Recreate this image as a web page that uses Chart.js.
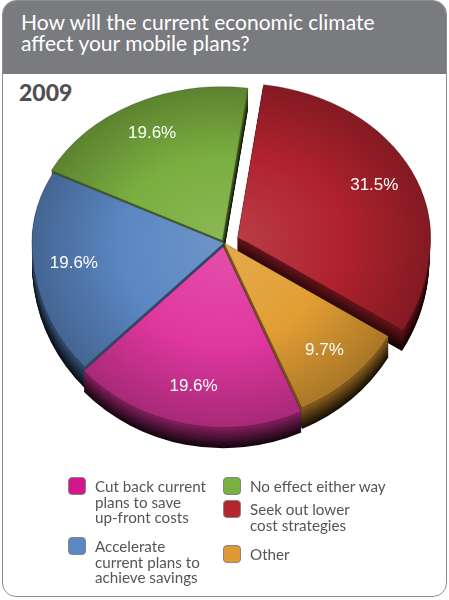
<!DOCTYPE html>
<html>
<head>
<meta charset="utf-8">
<script src="https://cdn.jsdelivr.net/npm/chart.js@4.4.1/dist/chart.umd.min.js"></script>
<style>
  body { margin: 0; width: 449px; height: 600px; background: #fff; overflow: hidden; font-family: Lato, "Open Sans", sans-serif; }
  #frame { position: absolute; left: 2px; top: 0; width: 443px; height: 595px; border: 1px solid #8e8e8e; border-radius: 14px; overflow: hidden; background: #fff; }
  #header { position: absolute; left: 0; top: 0; right: 0; height: 73px; background: #7a7b7f; }
  #title { position: absolute; left: 21px; top: 11px; color: #fff; font-size: 21px; line-height: 21px; white-space: nowrap; }
  #year { position: absolute; left: 19px; top: 81px; color: #505052; font-weight: 900; font-size: 23px; line-height: 23px; }
  #chart { position: absolute; left: 0; top: 0; z-index: 1; pointer-events: none; }
  .item { position: absolute; z-index: 2; }
  .item .sw { position: absolute; left: 0; top: 0; width: 16px; height: 16px; border: 1.5px solid #858585; border-radius: 4px; }
  .item .tx { position: absolute; left: 27px; top: 2px; color: #555; font-size: 15.2px; line-height: 15.5px; white-space: pre; }
</style>
</head>
<body>
<div id="frame"><div id="header"></div></div>
<div id="title">How will the current economic climate<br>affect your mobile plans?</div>
<div id="year">2009</div>
<canvas id="chart" width="449" height="600"></canvas>
<div id="legend"></div>
<script>
// answers, in the order they go round the pie (clockwise from the pink one)
const categories = [
  "Cut back current\nplans to save\nup-front costs",
  "Accelerate\ncurrent plans to\nachieve savings",
  "No effect either way",
  "Seek out lower\ncost strategies",
  "Other"
];
const shares = [19.6, 19.6, 19.6, 31.5, 9.7];

const sliceColors = ["#e0379f", "#5a86c2", "#7aae3f", "#b0222d", "#e29e34"];
const swatchColors = ["#d4168a", "#5b87c3", "#79b042", "#b3262d", "#de9a35"];
const sliceOffsets = [16, 0, 14, 60, 0];

// far half of the pie is flattened more than the near half
const tiltFar = 0.80;
const tiltNear = 0.94;
const depth = 21;

function mix(hex, target, t) {
  const n = parseInt(hex.slice(1), 16);
  const c = [(n >> 16) & 255, (n >> 8) & 255, n & 255];
  return "rgb(" + c.map(v => Math.round(v + (target - v) * t)).join(",") + ")";
}

function center(chart) {
  const a = chart.chartArea;
  return [(a.left + a.right) / 2, (a.top + a.bottom) / 2];
}

// run fn twice: once for the far half, once for the near half
function eachHalf(chart, dy, fn) {
  const ctx = chart.ctx;
  const [cx, cy] = center(chart);
  [[true, tiltFar], [false, tiltNear]].forEach(([far, k]) => {
    ctx.save();
    ctx.beginPath();
    if (far) ctx.rect(0, 0, chart.width, cy + dy);
    else ctx.rect(0, cy + dy, chart.width, chart.height);
    ctx.clip();
    ctx.translate(cx, cy + dy);
    ctx.scale(1, k);
    ctx.translate(-cx, -cy);
    fn(ctx);
    ctx.restore();
  });
}

function arcPath(ctx, arc) {
  const p = arc.getProps(["x", "y", "startAngle", "endAngle", "outerRadius"], true);
  const off = (arc.options.offset || 0) / 4;
  const mid = (p.startAngle + p.endAngle) / 2;
  const x = p.x + Math.cos(mid) * off;
  const y = p.y + Math.sin(mid) * off;
  ctx.beginPath();
  ctx.moveTo(x, y);
  ctx.arc(x, y, p.outerRadius, p.startAngle, p.endAngle);
  ctx.closePath();
}

const pie3d = {
  id: "pie3d",
  beforeDatasetsDraw(chart) {
    const arcs = chart.getDatasetMeta(0).data;
    // side walls, deepest layer first
    for (let d = depth; d >= 1; d--) {
      eachHalf(chart, d, ctx => {
        arcs.forEach((arc, i) => {
          ctx.fillStyle = mix(sliceColors[i], 0, 0.4 + 0.5 * d / depth);
          arcPath(ctx, arc);
          ctx.fill();
        });
      });
    }
    // top faces
    eachHalf(chart, 0, ctx => arcs.forEach(arc => arc.draw(ctx)));
    return false;
  },
  afterDraw(chart) {
    const ctx = chart.ctx;
    const [cx, cy] = center(chart);
    ctx.save();
    ctx.font = '17px "Liberation Sans", Arial, sans-serif';
    ctx.fillStyle = "#fff";
    ctx.textAlign = "center";
    ctx.textBaseline = "middle";
    chart.getDatasetMeta(0).data.forEach((arc, i) => {
      const p = arc.getProps(["startAngle", "endAngle", "outerRadius"], true);
      const mid = (p.startAngle + p.endAngle) / 2;
      const r = p.outerRadius * 0.79 + (arc.options.offset || 0) / 4;
      const dy = Math.sin(mid) * r;
      ctx.fillText(shares[i].toFixed(1) + "%", cx + Math.cos(mid) * r, cy + dy * (dy < 0 ? tiltFar : tiltNear));
    });
    ctx.restore();
  }
};

function shade(c) {
  const chart = c.chart;
  const base = sliceColors[c.dataIndex];
  if (!chart.chartArea) return base;
  const [cx, cy] = center(chart);
  const g = chart.ctx.createRadialGradient(cx, cy, 0, cx, cy, 192);
  g.addColorStop(0, mix(base, 255, 0.12));
  g.addColorStop(0.55, base);
  g.addColorStop(1, mix(base, 0, 0.25));
  return g;
}

const pieChart = new Chart("chart", {
  type: "pie",
  data: {
    labels: categories,
    datasets: [{
      data: shares,
      backgroundColor: shade,
      borderColor: "rgba(30,20,20,0.3)",
      borderWidth: 1,
      offset: sliceOffsets
    }]
  },
  options: {
    responsive: false,
    animation: false,
    events: [],
    rotation: 156,
    radius: 192,
    clip: false,
    layout: { padding: { left: 0, right: 1, top: 0, bottom: 114 } },
    plugins: { legend: { display: false }, tooltip: { enabled: false } }
  },
  plugins: [pie3d]
});

// legend: two columns, like the printed key
const slots = [[68, 477], [68, 537], [223, 477], [223, 500], [223, 545]];
categories.forEach((name, i) => {
  const item = document.createElement("div");
  item.className = "item";
  item.style.left = slots[i][0] + "px";
  item.style.top = slots[i][1] + "px";
  item.innerHTML = '<div class="sw" style="background:' + swatchColors[i] + '"></div><div class="tx"></div>';
  item.querySelector(".tx").textContent = name;
  document.getElementById("legend").appendChild(item);
});
</script>
</body>
</html>
